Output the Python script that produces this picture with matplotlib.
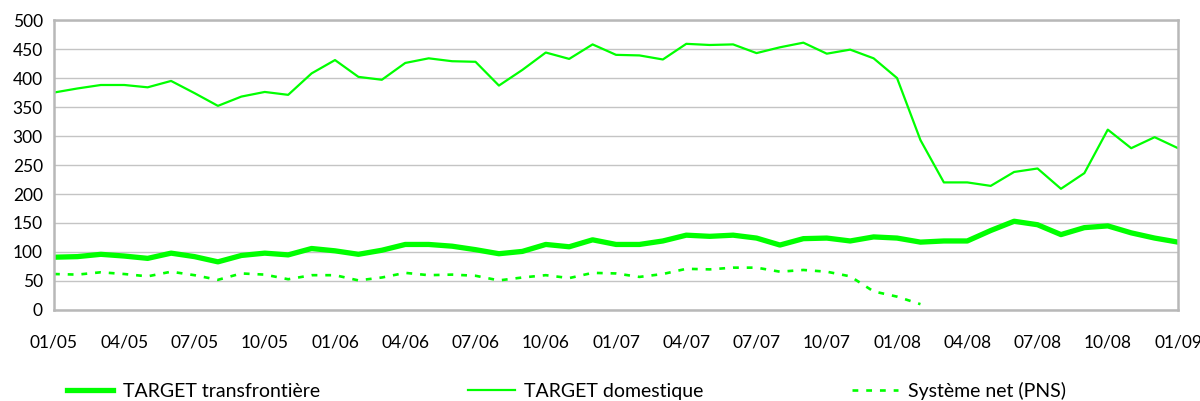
import matplotlib.pyplot as plt
import numpy as np

# monthly values, 01/05 .. 01/09
months = list(range(49))
tick_labels = ["01/05", "04/05", "07/05", "10/05", "01/06", "04/06", "07/06", "10/06",
               "01/07", "04/07", "07/07", "10/07", "01/08", "04/08", "07/08", "10/08", "01/09"]

target_transfrontiere = [91, 92, 96, 93, 89, 98, 92, 83, 94, 98, 95, 106, 102, 96, 103,
                         113, 113, 110, 104, 97, 101, 113, 109, 121, 113, 113, 119, 129, 127, 129, 124, 112,
                         123, 124, 119, 126, 124, 117, 119, 119, 137, 153, 147, 130, 142, 145, 133, 124, 117]

target_domestique = [375, 382, 388, 388, 384, 395, 374, 352, 368, 376, 371, 408, 431, 402, 397,
                     426, 434, 429, 428, 387, 414, 444, 433, 458, 440, 439, 432, 459, 457, 458, 443, 453,
                     461, 442, 449, 434, 400, 293, 220, 220, 214, 238, 244, 209, 236, 311, 279, 298, 279]

pns = [62, 61, 65, 62, 58, 66, 60, 52, 63, 61, 53, 60, 60, 51, 56,
       64, 60, 61, 59, 51, 56, 60, 55, 64, 63, 57, 62, 71, 70, 73, 73, 66,
       69, 66, 58, 32, 23, 10]
pns = pns + [np.nan] * (len(months) - len(pns))

green = "#00ff00"
plt.rcParams['font.family'] = ['Lato', 'DejaVu Sans']

fig = plt.figure(figsize=(12, 4.01), dpi=100)
ax = fig.add_axes([0.045, 0.227, 0.9367, 0.723])

ax.plot(months, target_transfrontiere, color=green, lw=3.8, label="TARGET transfrontière")
ax.plot(months, target_domestique, color=green, lw=1.6, label="TARGET domestique")
ax.plot(months, pns, color=green, lw=1.9, dashes=(2.2, 3.0), label="Système net (PNS)")

ax.set_xlim(0, 48)
ax.set_ylim(0, 500)
ax.set_yticks(range(0, 501, 50))
ax.set_xticks(range(0, 49, 3))
ax.set_xticklabels(tick_labels)
ax.tick_params(length=0, labelsize=12.5, colors="black")
ax.tick_params(axis="x", pad=18)
ax.tick_params(axis="y", pad=8)
ax.grid(axis="y", color="#c4c4c4", lw=1)
ax.set_axisbelow(True)
for s in ax.spines.values():
    s.set_color("#b8b8b8")
    s.set_linewidth(1.8)

fig.legend(loc="lower left", bbox_to_anchor=(0.041, -0.04), ncol=3, frameon=False,
           fontsize=14, handlelength=2.4, columnspacing=7.6, handletextpad=0.5)

fig.savefig("out.png", dpi=100)
